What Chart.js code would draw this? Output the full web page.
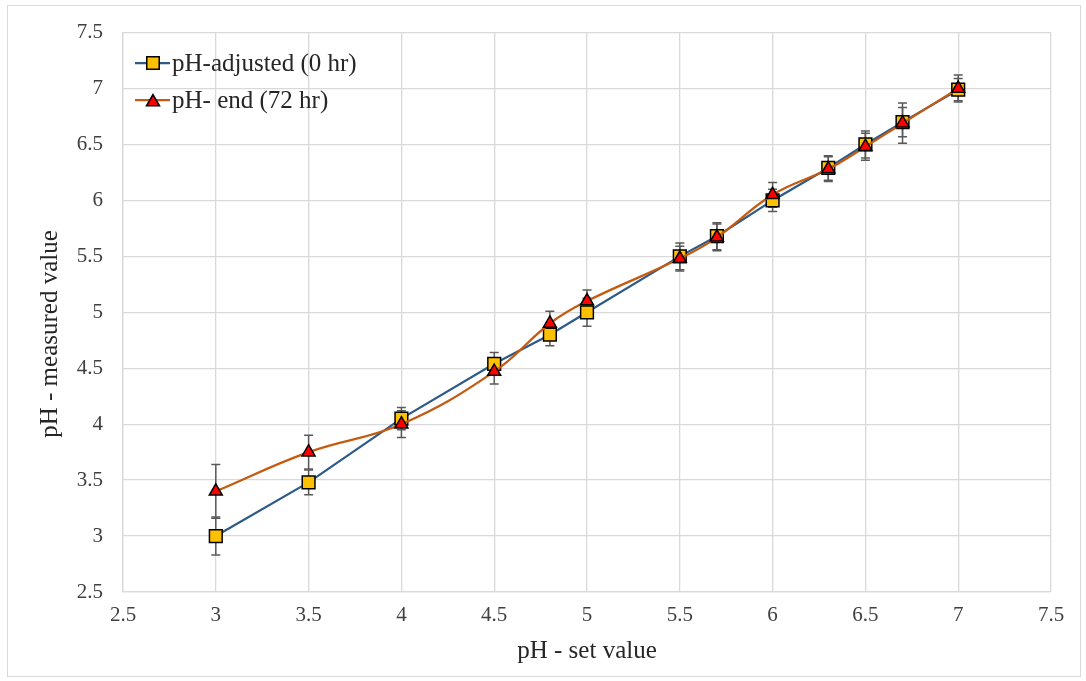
<!DOCTYPE html>
<html>
<head>
<meta charset="utf-8">
<script src="https://cdn.jsdelivr.net/npm/chart.js@4"></script>
<style>
  html, body { margin: 0; padding: 0; background: #fff; }
  #wrap { position: relative; width: 1086px; height: 681px; }
  #frame { position: absolute; left: 7px; top: 5px; width: 1072px; height: 670px;
           border: 1px solid #d9d9d9; pointer-events: none; }
</style>
</head>
<body>
<div id="wrap">
  <canvas id="chart" width="1086" height="681"></canvas>
  <div id="frame"></div>
</div>
<script>
// --- data ---
const setValues = [3, 3.5, 4, 4.5, 4.8, 5, 5.5, 5.7, 6, 6.3, 6.5, 6.7, 7];
const adjusted = [3.0, 3.48, 4.05, 4.54, 4.8, 5.0, 5.5, 5.68, 6.0, 6.29, 6.5, 6.7, 6.99];
const adjustedErr = [0.17, 0.11, 0.1, 0.1, 0.1, 0.125, 0.12, 0.12, 0.1, 0.11, 0.12, 0.13, 0.1];
const endValues = [3.4, 3.75, 4.0, 4.47, 4.9, 5.1, 5.48, 5.67, 6.05, 6.28, 6.48, 6.69, 7.0];
const endErr = [0.24, 0.15, 0.12, 0.11, 0.11, 0.1, 0.11, 0.12, 0.11, 0.11, 0.12, 0.18, 0.12];
const seriesNames = ["pH-adjusted (0 hr)", "pH- end (72 hr)"];
const xTicks = [2.5, 3, 3.5, 4, 4.5, 5, 5.5, 6, 6.5, 7, 7.5];
const yTicks = [2.5, 3, 3.5, 4, 4.5, 5, 5.5, 6, 6.5, 7, 7.5];
const xTitle = "pH - set value";
const yTitle = "pH - measured value";

const FONT = "'Liberation Serif', 'Times New Roman', serif";
const BLUE = "#2e5b88";
const ORANGE = "#c55a11";

const toPoints = (ys) => setValues.map((x, i) => ({ x, y: ys[i] }));

// error bars, drawn under the markers
const errorBars = {
  id: "errorBars",
  beforeDatasetsDraw(chart) {
    const { ctx, scales: { x, y } } = chart;
    const sets = [[adjusted, adjustedErr], [endValues, endErr]];
    ctx.save();
    ctx.strokeStyle = "#595959";
    ctx.lineWidth = 1.5;
    sets.forEach(([vals, errs]) => {
      vals.forEach((v, i) => {
        const px = x.getPixelForValue(setValues[i]);
        const top = y.getPixelForValue(v + errs[i]);
        const bot = y.getPixelForValue(v - errs[i]);
        ctx.beginPath();
        ctx.moveTo(px, top); ctx.lineTo(px, bot);
        ctx.moveTo(px - 4.5, top); ctx.lineTo(px + 4.5, top);
        ctx.moveTo(px - 4.5, bot); ctx.lineTo(px + 4.5, bot);
        ctx.stroke();
      });
    });
    ctx.restore();
  }
};

// legend inside the plot (line through marker) + y axis title
const extras = {
  id: "extras",
  afterDraw(chart) {
    const { ctx } = chart;
    const rows = [
      { y: 63, color: BLUE, style: "rect", fill: "#ffc000", r: 8.8, label: seriesNames[0] },
      { y: 100, color: ORANGE, style: "triangle", fill: "#ff0000", r: 7.5, label: seriesNames[1] }
    ];
    ctx.save();
    rows.forEach(row => {
      ctx.strokeStyle = row.color;
      ctx.lineWidth = 2.25;
      ctx.beginPath();
      ctx.moveTo(135, row.y); ctx.lineTo(170, row.y);
      ctx.stroke();
      ctx.fillStyle = row.fill;
      ctx.strokeStyle = "#000";
      ctx.lineWidth = 1.5;
      Chart.helpers.drawPoint(ctx,
        { pointStyle: row.style, radius: row.r, rotation: 0, borderWidth: 1.5 },
        153, row.style === "triangle" ? row.y + 2 : row.y);
      ctx.fillStyle = "#262626";
      ctx.font = "25px " + FONT;
      ctx.textBaseline = "middle";
      ctx.textAlign = "left";
      ctx.fillText(row.label, 172, row.y + 1);
    });

    ctx.translate(50, 334);
    ctx.rotate(-Math.PI / 2);
    ctx.textAlign = "center";
    ctx.textBaseline = "middle";
    ctx.font = "25px " + FONT;
    ctx.fillStyle = "#262626";
    ctx.fillText(yTitle, 0, 0);
    ctx.restore();
  }
};

new Chart(document.getElementById("chart"), {
  type: "scatter",
  data: {
    datasets: [
      {
        label: seriesNames[0],
        data: toPoints(adjusted),
        showLine: true,
        tension: 0,
        borderColor: BLUE,
        borderWidth: 2.25,
        pointStyle: "rect",
        pointRadius: 9,
        pointHoverRadius: 9,
        pointBackgroundColor: "#ffc000",
        pointBorderColor: "#000",
        pointBorderWidth: 1.5,
        order: 2
      },
      {
        label: seriesNames[1],
        data: toPoints(endValues),
        showLine: true,
        tension: 0.4,
        borderColor: ORANGE,
        borderWidth: 2.25,
        pointStyle: "triangle",
        pointRadius: 7.5,
        pointHoverRadius: 7.5,
        pointBackgroundColor: "#ff0000",
        pointBorderColor: "#000",
        pointBorderWidth: 1.5,
        order: 1
      }
    ]
  },
  options: {
    responsive: false,
    animation: false,
    layout: { padding: { top: 32, right: 35, bottom: 0, left: 0 } },
    plugins: {
      legend: { display: false },
      tooltip: { enabled: false }
    },
    scales: {
      x: {
        type: "linear",
        min: 2.5,
        max: 7.5,
        afterBuildTicks: (s) => { s.ticks = xTicks.map(v => ({ value: v })); },
        afterFit: (s) => { s.height = 89; },
        grid: { color: "#d9d9d9", lineWidth: 1.3, drawTicks: false },
        border: { color: "#d9d9d9", width: 1.3 },
        ticks: {
          padding: 11,
          color: "#404040",
          font: { family: FONT, size: 21 },
          callback: (v) => String(v)
        },
        title: {
          display: true,
          text: xTitle,
          color: "#262626",
          font: { family: FONT, size: 25 },
          padding: { top: 0, bottom: 15 }
        }
      },
      y: {
        type: "linear",
        min: 2.5,
        max: 7.5,
        afterBuildTicks: (s) => { s.ticks = yTicks.map(v => ({ value: v })); },
        afterFit: (s) => { s.width = 123; },
        grid: { color: "#d9d9d9", lineWidth: 1.3, drawTicks: false },
        border: { color: "#d9d9d9", width: 1.3 },
        ticks: {
          padding: 20,
          color: "#404040",
          font: { family: FONT, size: 21 },
          callback: (v) => String(v)
        }
      }
    }
  },
  plugins: [errorBars, extras]
});
</script>
</body>
</html>
